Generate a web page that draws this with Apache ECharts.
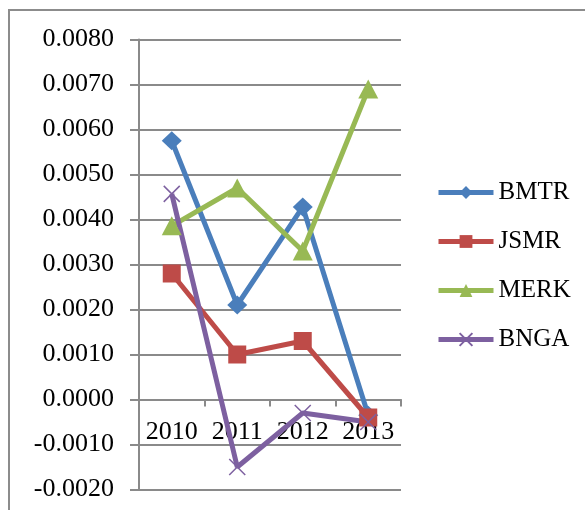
<!DOCTYPE html>
<html>
<head>
<meta charset="utf-8">
<script src="https://cdn.jsdelivr.net/npm/echarts@6/dist/echarts.min.js"></script>
<style>
  html, body { margin: 0; padding: 0; background: #fff; }
  #chart { width: 585px; height: 510px; }
</style>
</head>
<body>
<div id="chart"></div>
<script>
// Years on the category axis
const years = ['2010', '2011', '2012', '2013'];

// Values per company
const bmtr = [0.00575, 0.0021, 0.00428, -0.00035];
const jsmr = [0.0028, 0.0010, 0.0013, -0.0004];
const merk = [0.00386, 0.0047, 0.0033, 0.0069];
const bnga = [0.00457, -0.0015, -0.0003, -0.0005];

// Value axis range
const yMin = -0.002;
const yMax = 0.008;
const yStep = 0.001;

const FONT = 'Liberation Serif';
const GRID_COLOR = '#8a8a8a';
const crossPath = 'path://M0,0L10,10M10,0L0,10';

const gridTop = 39.5;
const gridBottom = 20.5;
const plotHeight = 510 - gridTop - gridBottom;
// Shift the category axis up so it sits on the zero line, labels included
const zeroOffset = -plotHeight * (0 - yMin) / (yMax - yMin);

function lineSeries(name, data, color, symbol, size, extra) {
  return Object.assign({
    name: name,
    type: 'line',
    data: data,
    symbol: symbol,
    symbolSize: size,
    showAllSymbol: true,
    lineStyle: { color: color, width: 5 },
    itemStyle: { color: color, borderWidth: 0 },
    emphasis: { disabled: true },
    animation: false
  }, extra || {});
}

const chart = echarts.init(document.getElementById('chart'), null, { renderer: 'canvas' });
chart.setOption({
  backgroundColor: '#ffffff',
  animation: false,
  graphic: [{
    type: 'rect',
    shape: { x: 9, y: 10, width: 700, height: 600 },
    style: { fill: 'none', stroke: '#8c8c8c', lineWidth: 2 },
    silent: true
  }],
  grid: {
    left: 139, right: 184, top: gridTop, bottom: gridBottom,
    outerBoundsMode: 'none'
  },
  legend: {
    orient: 'vertical',
    left: 436,
    top: 180,
    padding: 0,
    itemWidth: 55,
    itemHeight: 16,
    itemGap: 24,
    lineStyle: { width: 5 },
    textStyle: { fontFamily: FONT, fontSize: 25, color: '#000' },
    data: ['BMTR', 'JSMR', 'MERK', 'BNGA']
  },
  xAxis: {
    type: 'category',
    data: years,
    boundaryGap: true,
    position: 'bottom',
    offset: zeroOffset,
    axisLine: { onZero: false, lineStyle: { color: GRID_COLOR, width: 2 } },
    axisTick: { show: true, inside: false, length: 7, lineStyle: { color: GRID_COLOR, width: 2 } },
    axisLabel: {
      fontFamily: FONT, fontSize: 26, color: '#000', margin: 20,
      interval: 0, hideOverlap: false
    },
    splitLine: { show: false },
    z: 1
  },
  yAxis: {
    type: 'value',
    min: yMin,
    max: yMax,
    interval: yStep,
    axisLine: { show: true, lineStyle: { color: GRID_COLOR, width: 2 } },
    axisTick: { show: true, length: 9, lineStyle: { color: GRID_COLOR, width: 2 } },
    axisLabel: {
      fontFamily: FONT, fontSize: 26, color: '#000', margin: 25,
      formatter: v => v.toFixed(4).replace(/^-0\.0000$/, '0.0000')
    },
    splitLine: { show: true, lineStyle: { color: GRID_COLOR, width: 2 } }
  },
  series: [
    lineSeries('BMTR', bmtr, '#4a7ebb', 'diamond', [20, 19]),
    lineSeries('JSMR', jsmr, '#be4b48', 'rect', 18),
    lineSeries('MERK', merk, '#98b954', 'triangle', [20, 19]),
    lineSeries('BNGA', bnga, '#7d60a0', crossPath, 16, {
      itemStyle: { color: '#7d60a0', borderColor: '#7d60a0', borderWidth: 1.5 }
    })
  ]
});
</script>
</body>
</html>
